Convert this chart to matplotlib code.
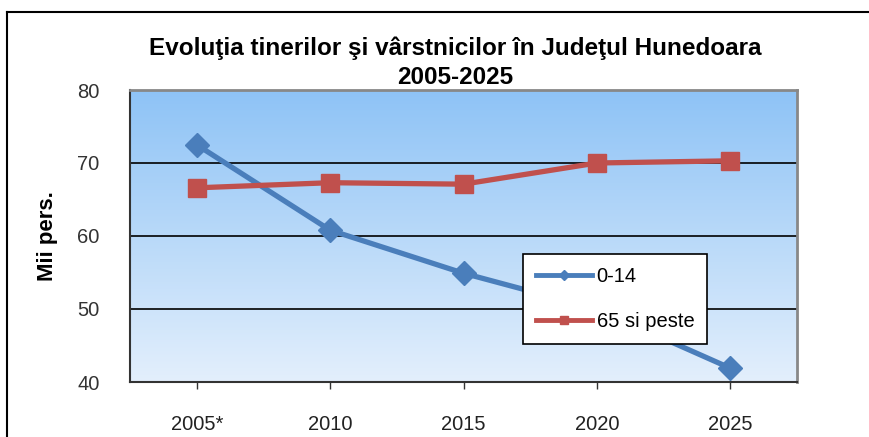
import matplotlib
matplotlib.use("Agg")
import matplotlib.pyplot as plt
import numpy as np
from matplotlib.colors import LinearSegmentedColormap
from matplotlib.lines import Line2D

categories = ["2005*", "2010", "2015", "2020", "2025"]
young = [72.5, 60.8, 54.9, 50.0, 41.9]
old = [66.6, 67.3, 67.1, 70.0, 70.3]
series_names = ["0-14", "65 si peste"]
yticks = [40, 50, 60, 70, 80]

NARROW = ["Liberation Sans Narrow", "Liberation Sans", "DejaVu Sans"]
SANS = ["Liberation Sans", "DejaVu Sans"]

fig = plt.figure(figsize=(8.69, 4.37), dpi=100)
fig.patch.set_facecolor("white")

# outer chart frame (top and left visible)
fig.add_artist(Line2D([7/869, 7/869], [0, 1 - 12/437], transform=fig.transFigure, color="black", lw=1.5))
fig.add_artist(Line2D([7/869, 1], [1 - 12/437, 1 - 12/437], transform=fig.transFigure, color="black", lw=1.5))

ax = fig.add_axes([130/869, 1 - 382/437, (797 - 130)/869, (382 - 90)/437])

x = np.arange(len(categories)) + 0.5
ax.set_xlim(0, len(categories))
ax.set_ylim(40, 80)

cmap = LinearSegmentedColormap.from_list("bg", ["#e3effc", "#8ec3f6"])
grad = np.linspace(0, 1, 256).reshape(-1, 1)
ax.imshow(grad, extent=[0, len(categories), 40, 80], origin="lower", aspect="auto", cmap=cmap, zorder=0)

for yv in yticks[1:-1]:
    ax.axhline(yv, color="black", lw=1.2, zorder=1)

ax.plot(x, young, color="#4a7ebb", lw=3.8, marker="D", markersize=12, zorder=3, label=series_names[0])
ax.plot(x, old, color="#c0504d", lw=3.8, marker="s", markersize=13.5, zorder=3, label=series_names[1])

ax.set_yticks(yticks)
ax.set_yticklabels([str(v) for v in yticks], fontfamily=NARROW, fontsize=14.5, color="#333333")
ax.tick_params(axis="y", length=0, pad=22)
ax.set_xticks(x)
ax.set_xticklabels(categories, fontfamily=NARROW, fontsize=14.5, color="#222222")
ax.tick_params(axis="x", direction="out", length=5, width=1, pad=19, color="#333333")

for side in ["left", "bottom"]:
    ax.spines[side].set_color("#333333")
    ax.spines[side].set_linewidth(1.5)
for side in ["top", "right"]:
    ax.spines[side].set_color("#888888")
    ax.spines[side].set_linewidth(2)

ax.set_ylabel("Mii pers.", fontfamily=SANS, fontsize=16, fontweight="bold", labelpad=14)

fig.text(455/869, 1 - 48/437, "Evoluţia tinerilor şi vârstnicilor în Judeţul Hunedoara",
         ha="center", va="center", fontfamily=NARROW, fontsize=17.5, fontweight="bold")
fig.text(455/869, 1 - 78/437, "2005-2025",
         ha="center", va="center", fontfamily=NARROW, fontsize=17.5, fontweight="bold")

handles = [Line2D([], [], color="#4a7ebb", lw=3.5, marker="D", markersize=5),
           Line2D([], [], color="#c0504d", lw=3.5, marker="s", markersize=6)]
leg = ax.legend(handles, series_names, loc="upper left",
                bbox_to_anchor=((523 - 130)/667, (382 - 254)/292),
                frameon=True, fancybox=False, edgecolor="black", framealpha=1,
                prop={"family": NARROW, "size": 14.5}, handlelength=2.8, handletextpad=0.2,
                labelspacing=1.3, borderpad=0.65, borderaxespad=0)
leg.get_frame().set_linewidth(1.2)
leg.set_zorder(5)

fig.savefig("out.png", dpi=100)
